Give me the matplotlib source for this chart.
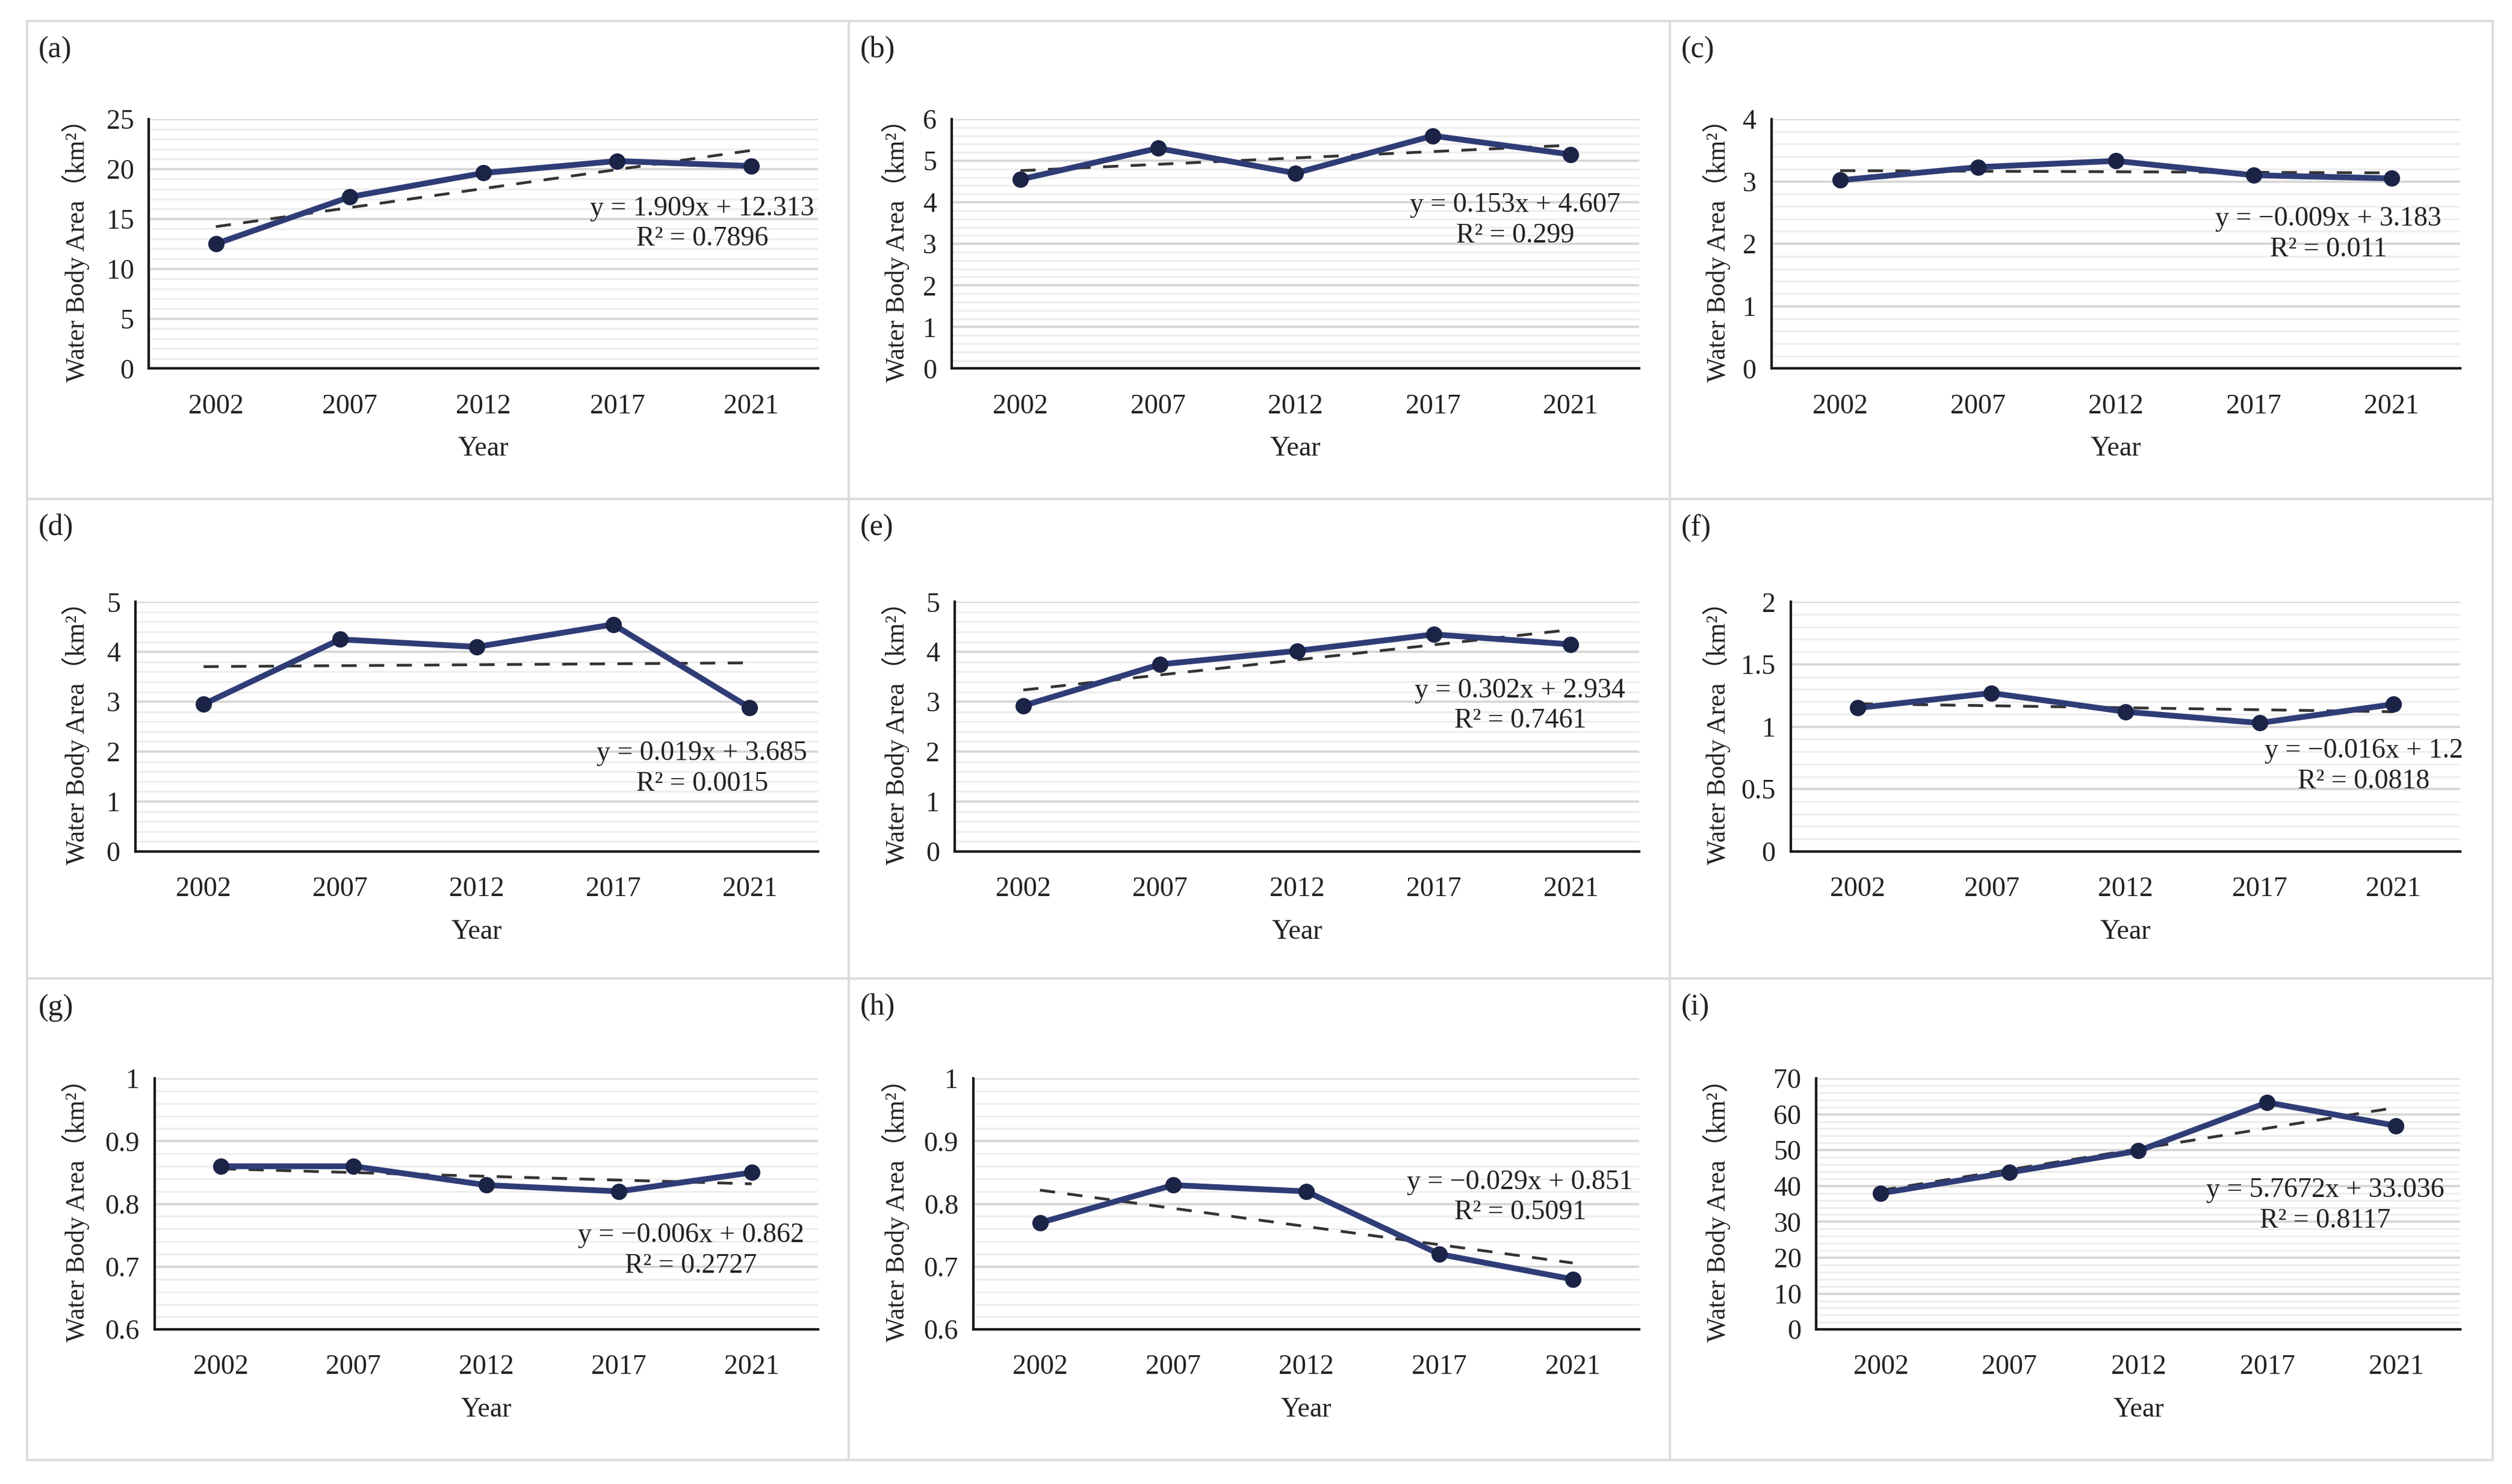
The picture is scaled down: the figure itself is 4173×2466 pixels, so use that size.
import numpy as np
import matplotlib
matplotlib.use("Agg")
import matplotlib.pyplot as plt
from matplotlib.patches import Rectangle
from matplotlib.ticker import MultipleLocator, FuncFormatter

plt.rcParams["font.family"] = ["Liberation Serif", "Noto Sans CJK SC"]

# Data
years = ["2002", "2007", "2012", "2017", "2021"]
panel_letters = ["a", "b", "c", "d", "e", "f", "g", "h", "i"]

area_a = [12.5, 17.2, 19.6, 20.8, 20.3]
area_b = [4.55, 5.3, 4.7, 5.6, 5.15]
area_c = [3.02, 3.23, 3.33, 3.1, 3.05]
area_d = [2.95, 4.25, 4.1, 4.55, 2.88]
area_e = [2.92, 3.75, 4.02, 4.35, 4.15]
area_f = [1.15, 1.27, 1.12, 1.03, 1.18]
area_g = [0.86, 0.86, 0.83, 0.82, 0.85]
area_h = [0.77, 0.83, 0.82, 0.72, 0.68]
area_i = [38.0, 43.8, 49.8, 63.3, 56.8]
areas = [area_a, area_b, area_c, area_d, area_e, area_f, area_g, area_h, area_i]

# linear trend y = slope*x + intercept, x = 1..5 (as in the chart labels)
slopes = [1.909, 0.153, -0.009, 0.019, 0.302, -0.016, -0.006, -0.029, 5.7672]
intercepts = [12.313, 4.607, 3.183, 3.685, 2.934, 1.2, 0.862, 0.851, 33.036]
eq_texts = ["y = 1.909x + 12.313", "y = 0.153x + 4.607", "y = \u22120.009x + 3.183",
            "y = 0.019x + 3.685", "y = 0.302x + 2.934", "y = \u22120.016x + 1.2",
            "y = \u22120.006x + 0.862", "y = \u22120.029x + 0.851", "y = 5.7672x + 33.036"]
r2_texts = ["0.7896", "0.299", "0.011", "0.0015", "0.7461", "0.0818",
            "0.2727", "0.5091", "0.8117"]

y_min = [0, 0, 0, 0, 0, 0, 0.6, 0.6, 0]
y_max = [25, 6, 4, 5, 5, 2, 1, 1, 70]
y_step = [5, 1, 1, 1, 1, 0.5, 0.1, 0.1, 10]

# layout (reference pixels at 1560 x 922 scale)
W, H = 1560.0, 922.0
ax_left = [92.5, 591, 1100, 84, 593, 1112, 96, 604.5, 1128]
ax_right = [508, 1018, 1528, 508, 1018, 1528, 508, 1018, 1528]
row_top = [74, 374, 670]
row_bot = [229, 529, 826]
ylab_x = [47, 556, 1066]
eq_x = [436, 941, 1446, 436, 944, 1468, 429, 944, 1444]
eq_y = [139, 137, 145.5, 477.5, 438.5, 476, 777, 744, 749]
col_edges = [17, 527, 1037, 1548]
row_edges = [13, 310, 608, 907]

line_color = "#2f3c76"
marker_color = "#1b2346"

fig = plt.figure(figsize=(4173 / 300, 2466 / 300), dpi=300)

# panel frames
for r in range(3):
    for c in range(3):
        x0 = col_edges[c] / W
        y0 = 1 - row_edges[r + 1] / H
        fig.patches.append(Rectangle((x0, y0), (col_edges[c + 1] - col_edges[c]) / W,
                                     (row_edges[r + 1] - row_edges[r]) / H,
                                     transform=fig.transFigure, fill=False,
                                     edgecolor="#dcdcdc", linewidth=0.9))

fmt = FuncFormatter(lambda v, p: f"{round(v, 6):g}")

for k in range(9):
    r, c = divmod(k, 3)
    left = ax_left[k] / W
    bottom = 1 - row_bot[r] / H
    ax = fig.add_axes([left, bottom, (ax_right[k] - ax_left[k]) / W,
                       (row_bot[r] - row_top[r]) / H])
    xs = np.arange(len(years))
    trend = [slopes[k] * (i + 1) + intercepts[k] for i in range(len(years))]

    ax.plot(xs, trend, linestyle=(0, (5.5, 4.5)), color="#333333", lw=1.1, zorder=3)
    ax.plot(xs, areas[k], color=line_color, lw=2.3, marker="o", markersize=5.5,
            markerfacecolor=marker_color, markeredgecolor=marker_color, zorder=4)

    ax.set_xlim(-0.5, len(years) - 0.5)
    ax.set_ylim(y_min[k], y_max[k])
    ax.set_xticks(xs)
    ax.set_xticklabels(years)
    ax.yaxis.set_major_locator(MultipleLocator(y_step[k]))
    ax.yaxis.set_minor_locator(MultipleLocator(y_step[k] / 5))
    ax.yaxis.set_major_formatter(fmt)
    ax.grid(axis="y", which="major", color="#d6d6d6", lw=0.9)
    ax.grid(axis="y", which="minor", color="#eeeeee", lw=0.8)
    ax.set_axisbelow(True)
    ax.tick_params(axis="x", length=0, pad=10, labelsize=11, colors="#222222")
    ax.tick_params(axis="y", which="both", length=0, pad=6, labelsize=11, colors="#222222")
    for s in ["top", "right"]:
        ax.spines[s].set_visible(False)
    for s in ["left", "bottom"]:
        ax.spines[s].set_color("#1a1a1a")
        ax.spines[s].set_linewidth(1.0)

    # labels
    cx = (ax_left[k] + ax_right[k]) / 2
    fig.text(cx / W, 1 - (row_bot[r] + 50) / H, "Year", ha="center", va="center",
             fontsize=11, color="#222222")
    fig.text(ylab_x[c] / W, 1 - (row_top[r] + row_bot[r]) / 2 / H,
             "Water Body Area\uff08km\u00b2\uff09", rotation=90, ha="center",
             va="center", fontsize=10.5, color="#222222")
    fig.text((col_edges[c] + 7) / W, 1 - (row_edges[r] + 18) / H,
             f"({panel_letters[k]})", ha="left", va="center", fontsize=12,
             color="#222222")
    fig.text(eq_x[k] / W, 1 - eq_y[k] / H, eq_texts[k] + "\nR\u00b2 = " + r2_texts[k],
             ha="center", va="center", multialignment="center", fontsize=11,
             color="#222222", linespacing=1.25)

fig.savefig("out.png", dpi=300, facecolor="white")
